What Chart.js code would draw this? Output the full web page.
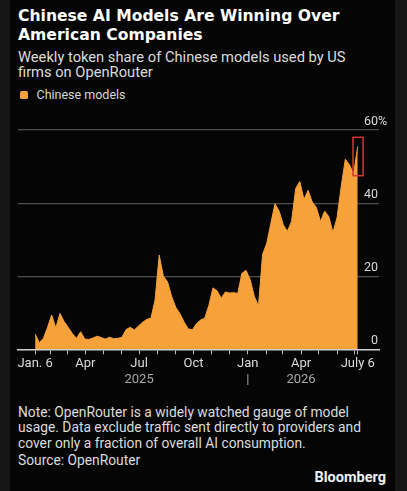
<!DOCTYPE html>
<html><head><meta charset="utf-8">
<script src="https://cdn.jsdelivr.net/npm/chart.js@4.4.1/dist/chart.umd.min.js"></script>
<style>
html,body{margin:0;padding:0;background:#161616;width:407px;height:491px;overflow:hidden;}
#panel{position:absolute;left:10px;top:0;width:385px;height:491px;background:#050505;}
.t{position:absolute;white-space:nowrap;font-family:Roboto,"Noto Sans",sans-serif;}
#title{left:18px;top:6.8px;font-family:"DejaVu Sans",sans-serif;font-weight:bold;font-size:15.6px;line-height:19px;color:#fff;}
#sub{left:18px;top:50.2px;font-size:14.7px;line-height:15px;color:#dcdcdc;}
#leg{left:36.5px;top:87.2px;font-size:12.5px;line-height:15px;color:#d8d8d8;}
#sw{position:absolute;left:19.5px;top:91px;width:8px;height:8px;border-radius:1.5px;background:#f6a13a;}
#note{left:18px;top:404.5px;font-size:13.8px;line-height:15.7px;color:#dcdcdc;}
#src{left:18px;top:452.5px;font-size:13.8px;line-height:15.5px;color:#dcdcdc;}
#brand{right:21px;top:469.8px;font-size:14.5px;line-height:15px;font-weight:bold;color:#f0f0f0;}
#chartbox{position:absolute;left:0;top:100px;width:407px;height:300px;}
</style></head>
<body>
<div id="panel"></div>
<div class="t" id="title">Chinese AI Models Are Winning Over<br>American Companies</div>
<div class="t" id="sub">Weekly token share of Chinese models used by US<br>firms on OpenRouter</div>
<div id="sw"></div>
<div class="t" id="leg">Chinese models</div>
<div id="chartbox"><canvas id="c"></canvas></div>
<div class="t" id="note">Note: OpenRouter is a widely watched gauge of model<br>usage. Data exclude traffic sent directly to providers and<br>cover only a fraction of overall AI consumption.</div>
<div class="t" id="src">Source: OpenRouter</div>
<div class="t" id="brand">Bloomberg</div>
<script>
// ---- data ----
const seriesName = 'Chinese models';
const firstWeek = '2025-01-06';
const shareValues = [
  4.2, 1.8, 3.0, 6.0, 9.4, 5.8, 9.8, 7.6, 6.0, 4.3,
  3.0, 4.8, 2.8, 2.7, 3.1, 3.6, 3.2, 2.8, 3.3, 2.9,
  3.0, 3.3, 5.4, 6.0, 5.3, 6.4, 7.4, 8.2, 8.5, 13.5,
  25.8, 20.0, 18.5, 14.5, 11.5, 9.8, 7.5, 5.6, 5.3, 7.0,
  8.0, 8.5, 12.0, 16.8, 16.0, 14.0, 15.7, 15.4, 15.5, 15.3,
  20.8, 21.6, 19.0, 14.5, 11.8, 26.0, 29.0, 34.5, 39.8, 37.8,
  34.0, 32.3, 35.0, 44.0, 45.9, 41.0, 43.5, 40.3, 38.8, 35.0,
  37.8, 36.3, 32.0, 36.0, 44.5, 52.0, 50.5, 48.0, 55.5
];
const tickDates = ['2025-01-06','2025-02-01','2025-03-01','2025-04-01','2025-05-01','2025-06-01',
  '2025-07-01','2025-08-01','2025-09-01','2025-10-01','2025-11-01','2025-12-01',
  '2026-01-01','2026-02-01','2026-03-01','2026-04-01','2026-05-01','2026-06-01','2026-07-01','2026-07-06'];
const tickLabels = ['Jan. 6','','','Apr','','','Jul','','','Oct','','','Jan','','','Apr','','','','July 6'];
const yearDates = ['2025-07-01','2026-01-01','2026-04-01'];
const yearLabels = ['2025','|','2026'];
const yTicks = [0, 20, 40, 60];
const yTickLabels = ['0', '20', '40', '60'];
const yUnit = '%';
const axisRange = ['2024-12-08', '2026-08-11'];
const highlight = { from: '2026-06-28', to: '2026-07-15', low: 47.5, high: 58 };

// ---- helpers ----
const dayOf = d => (Date.parse(d + 'T00:00:00Z') - Date.parse(firstWeek + 'T00:00:00Z')) / 864e5;
const points = shareValues.map((v, i) => ({ x: i * 7, y: v }));
const tickDays = tickDates.map(dayOf);
const yearDays = yearDates.map(dayOf);
const xMin = dayOf(axisRange[0]), xMax = dayOf(axisRange[1]);
const ORANGE = '#f6a13a';

const yLabelPlugin = {
  id: 'yLabels',
  afterDraw(chart) {
    const { ctx, chartArea, scales: { y } } = chart;
    ctx.save();
    ctx.font = '12.5px Roboto';
    ctx.fillStyle = '#d8d8d8';
    ctx.textBaseline = 'alphabetic';
    yTicks.forEach((v, i) => {
      const py = y.getPixelForValue(v) - 5.5;
      ctx.textAlign = 'right';
      ctx.fillText(yTickLabels[i], chartArea.right - 1, py);
      if (i === yTicks.length - 1) {
        ctx.textAlign = 'left';
        ctx.fillText(yUnit, chartArea.right - 1, py);
      }
    });
    ctx.restore();
  }
};
const highlightPlugin = {
  id: 'hl',
  afterDatasetsDraw(chart) {
    const { ctx, scales: { x, y } } = chart;
    const x0 = x.getPixelForValue(dayOf(highlight.from)), x1 = x.getPixelForValue(dayOf(highlight.to));
    const y0 = y.getPixelForValue(highlight.high), y1 = y.getPixelForValue(highlight.low);
    ctx.save();
    ctx.strokeStyle = '#d23b30';
    ctx.lineWidth = 1.5;
    ctx.strokeRect(x0, y0, x1 - x0, y1 - y0);
    ctx.restore();
  }
};

new Chart(document.getElementById('c'), {
  type: 'line',
  data: { datasets: [{
    label: seriesName, data: points, fill: 'origin',
    backgroundColor: ORANGE, borderColor: ORANGE, borderWidth: 1,
    pointRadius: 0, tension: 0
  }]},
  options: {
    responsive: true, maintainAspectRatio: false, animation: false,
    layout: { padding: { left: 18, right: 28, top: 30, bottom: 10.7 } },
    plugins: { legend: { display: false }, tooltip: { enabled: false } },
    scales: {
      x: {
        type: 'linear', position: 'bottom', min: xMin, max: xMax,
        afterBuildTicks: s => { s.ticks = tickDays.map(v => ({ value: v })); },
        afterFit: s => { s.height = 22; },
        grid: { display: true, drawOnChartArea: false, drawTicks: true, tickLength: 5, color: '#bdbdbd', lineWidth: 1 },
        border: { display: true, color: '#d0d0d0', width: 1.5 },
        ticks: {
          autoSkip: false, maxRotation: 0, minRotation: 0, padding: 2,
          color: '#dcdcdc', font: { family: 'Roboto', size: 13 },
          callback: (v, i) => tickLabels[i]
        }
      },
      x2: {
        type: 'linear', position: 'bottom', min: xMin, max: xMax,
        afterBuildTicks: s => { s.ticks = yearDays.map(v => ({ value: v })); },
        afterFit: s => { s.height = 18; },
        grid: { display: false, drawTicks: false },
        border: { display: false },
        ticks: {
          autoSkip: false, maxRotation: 0, minRotation: 0, padding: 1,
          color: '#a8a8a8', font: { family: 'Roboto', size: 13 },
          callback: (v, i) => yearLabels[i]
        }
      },
      y: {
        type: 'linear', position: 'right', min: 0, max: 60,
        afterBuildTicks: s => { s.ticks = yTicks.map(v => ({ value: v })); },
        afterFit: s => { s.width = 0; },
        grid: { drawTicks: false, color: c => c.tick && c.tick.value === 0 ? 'rgba(0,0,0,0)' : '#4f4f4f', lineWidth: 1.2 },
        border: { display: false },
        ticks: { display: false }
      }
    }
  },
  plugins: [yLabelPlugin, highlightPlugin]
});
</script>
</body></html>
